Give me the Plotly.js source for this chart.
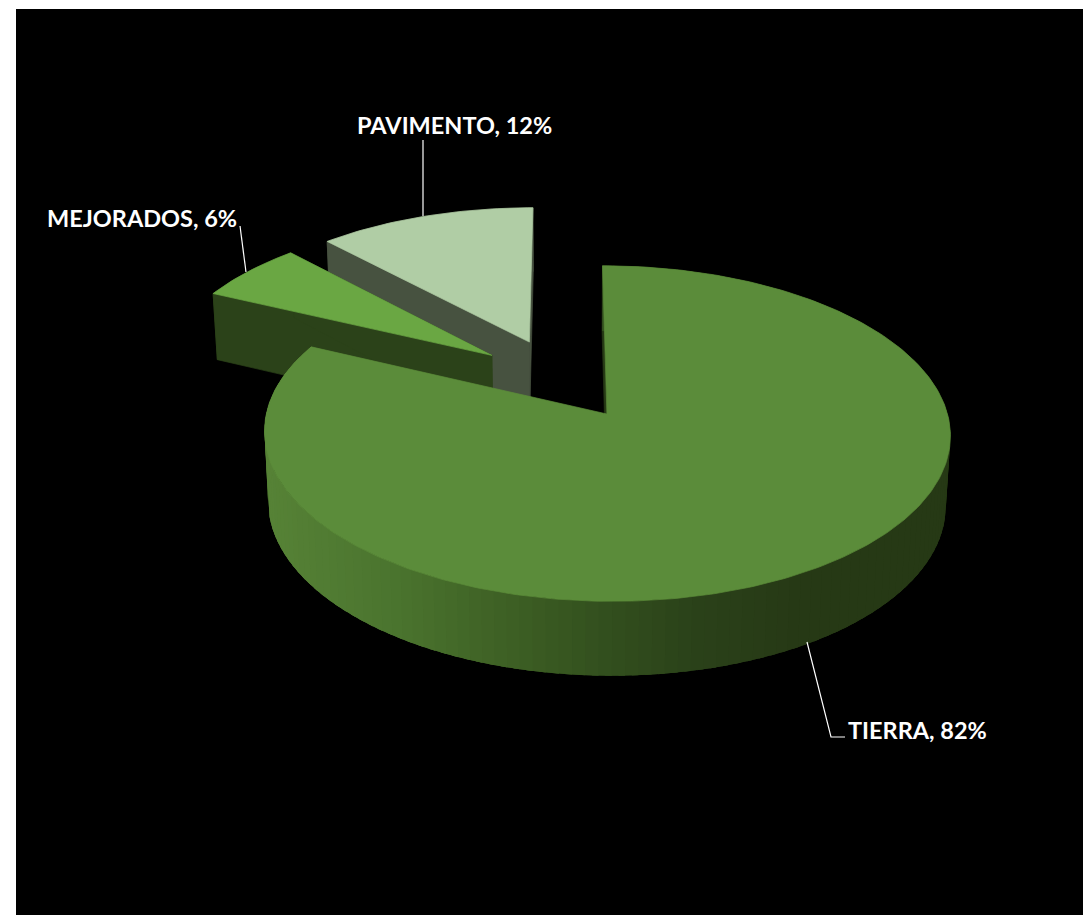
<!DOCTYPE html>
<html><head><meta charset="utf-8">
<script src="https://cdn.plot.ly/plotly-3.0.1.min.js"></script>
<style>html,body{margin:0;padding:0;background:#fff}#c{width:1083px;height:915px}</style>
</head><body><div id="c"></div>
<script>
// ---- chart data ----
const categories = ["TIERRA", "MEJORADOS", "PAVIMENTO"];
const percents   = [82, 6, 12];
const topColors  = ["#5B8C3A", "#6AA743", "#B0CDA5"];
const wallColors = ["#263A15", "#2B4219", "#475240"];
const wallRampX  = [268, 400, 500, 600, 700, 800, 945];
const wallRampC  = [[86,130,54],[74,115,46],[62,97,37],[51,80,30],[42,65,25],[38,57,21],[38,57,21]];
const pull = 0.258;

// ---- 3D view of the pie ----
const K = 0.1164, XV = 565, X0 = 0.123;
const TOP  = {b: 340.6, a: 165.5, y: 414};
const BASE = {b: 336.5, a: 170,   y: 483.4};

function project(p, X, Y) {
  const d = 1 + K * Y;
  return [XV + p.b * (X + X0) / d, p.y - p.a * Y / d];
}
const rad = d => d * Math.PI / 180;
const total = percents.reduce((a, b) => a + b, 0);
let acc = 0;
const wedges = percents.map(v => {
  const w = {start: acc * 360 / total, end: (acc + v) * 360 / total};
  acc += v; w.mid = (w.start + w.end) / 2;
  return w;
});
const ref = wedges[0].mid;
wedges.forEach(w => {
  w.ox = pull * (Math.sin(rad(w.mid)) - Math.sin(rad(ref)));
  w.oy = pull * (Math.cos(rad(w.mid)) - Math.cos(rad(ref)));
});
function arc(w, plane, a0, a1, step) {
  const n = Math.max(1, Math.round(Math.abs(a1 - a0) / step)), pts = [];
  for (let i = 0; i <= n; i++) {
    const t = rad(a0 + (a1 - a0) * i / n);
    pts.push(project(plane, w.ox + Math.sin(t), w.oy + Math.cos(t)));
  }
  return pts;
}
const apex = (w, plane) => project(plane, w.ox, w.oy);
const traces = [];
function poly(pts, color, lw) {
  const closed = pts.concat([pts[0]]);
  traces.push({type: "scatter", mode: "lines", x: closed.map(p => p[0]), y: closed.map(p => p[1]),
    fill: "toself", fillcolor: color, line: {color: color, width: lw === undefined ? 0.7 : lw},
    hoverinfo: "skip", showlegend: false});
}
function rampColor(x) {
  let i = 0;
  while (i < wallRampX.length - 2 && x > wallRampX[i + 1]) i++;
  const t = Math.min(1, Math.max(0, (x - wallRampX[i]) / (wallRampX[i + 1] - wallRampX[i])));
  const c = wallRampC[i].map((v, k) => Math.round(v + (wallRampC[i + 1][k] - v) * t));
  return `rgb(${c[0]},${c[1]},${c[2]})`;
}
function cutFace(w, angle, color) {
  const t = arc(w, TOP, angle, angle, 1)[0], b = arc(w, BASE, angle, angle, 1)[0];
  poly([apex(w, TOP), t, b, apex(w, BASE)], color);
}
// far slices first, the big slice last
[2, 1].forEach(i => {
  const w = wedges[i];
  poly(arc(w, TOP, w.start, w.end, 2).concat(arc(w, BASE, w.end, w.start, 2)), wallColors[i]);
  cutFace(w, w.start, wallColors[i]);
  cutFace(w, w.end, wallColors[i]);
  poly([apex(w, TOP)].concat(arc(w, TOP, w.start, w.end, 1)), topColors[i]);
});
const T = wedges[0];
cutFace(T, T.start, wallColors[0]);
// outer wall of the big slice: each band overlaps the next, so no seams show
for (let a = T.start; a < T.end; a += 2) {
  const b = Math.min(T.end, a + 5);
  const u = arc(T, TOP, a, b, 1), l = arc(T, BASE, a, b, 1);
  const mid = arc(T, TOP, a, a + 2, 2);
  poly(u.concat(l.slice().reverse()), rampColor((mid[0][0] + mid[1][0]) / 2), 0);
}
poly([apex(T, TOP)].concat(arc(T, TOP, T.start, T.end, 1)), topColors[0]);

// ---- labels ----
const labelAt = [[846, 730, "left"], [45, 218, "left"], [355, 125, "left"]];
const leaders = [
  [[807, 642], [831, 737], [845, 737]],
  [[246, 272], [240, 226]],
  [[423, 216], [423, 140]]
];
const annotations = categories.map((c, i) => ({
  x: labelAt[i][0], y: labelAt[i][1], xref: "x", yref: "y", xanchor: labelAt[i][2], yanchor: "middle",
  text: `<b>${c}, ${percents[i]}%</b>`, showarrow: false,
  font: {family: "Lato, 'Open Sans', sans-serif", size: 23.5, color: "#FFFFFF"}
}));
leaders.forEach(l => traces.push({type: "scatter", mode: "lines", x: l.map(p => p[0]), y: l.map(p => p[1]),
  line: {color: "#FFFFFF", width: 1.2}, hoverinfo: "skip", showlegend: false}));

Plotly.newPlot("c", traces, {
  width: 1083, height: 915,
  margin: {l: 16, r: 0, t: 9, b: 0, pad: 0},
  paper_bgcolor: "#FFFFFF", plot_bgcolor: "#000000",
  xaxis: {visible: false, range: [16, 1083], fixedrange: true},
  yaxis: {visible: false, range: [915, 9], fixedrange: true},
  annotations: annotations, showlegend: false
}, {displayModeBar: false, staticPlot: true});
</script></body></html>
